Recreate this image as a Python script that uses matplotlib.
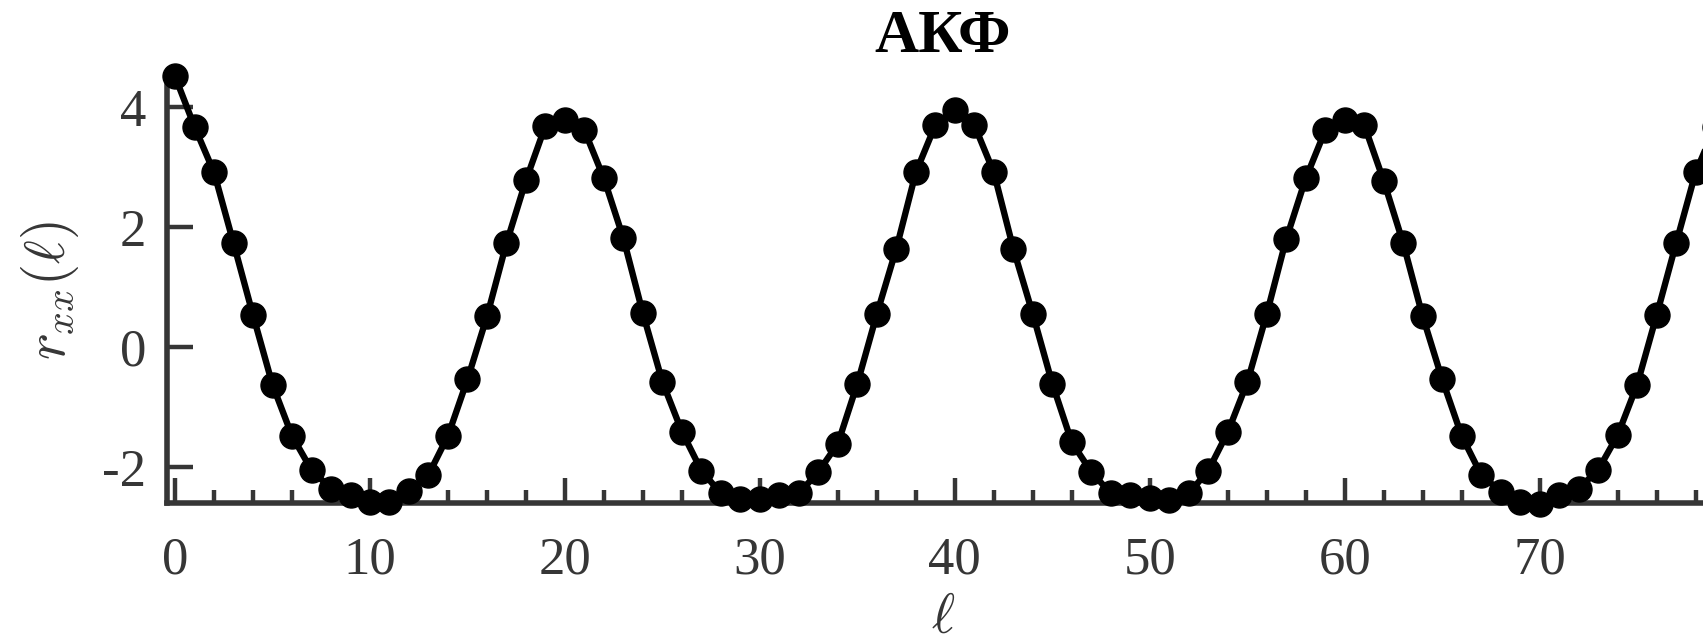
import matplotlib
matplotlib.use("Agg")
import matplotlib.pyplot as plt
import matplotlib.ticker as ticker
import numpy as np

# Отсчёты АКФ
lags = np.arange(80)
rxx = [4.51, 3.67, 2.91, 1.73, 0.53, -0.63, -1.48, -2.05, -2.36, -2.47,
       -2.59, -2.58, -2.40, -2.13, -1.48, -0.54, 0.51, 1.73, 2.78, 3.69,
       3.79, 3.61, 2.81, 1.81, 0.56, -0.58, -1.41, -2.06, -2.44, -2.54,
       -2.54, -2.47, -2.44, -2.08, -1.61, -0.61, 0.55, 1.64, 2.91, 3.70,
       3.95, 3.70, 2.91, 1.64, 0.55, -0.61, -1.59, -2.08, -2.44, -2.47,
       -2.52, -2.55, -2.44, -2.06, -1.42, -0.59, 0.55, 1.80, 2.81, 3.61,
       3.79, 3.70, 2.77, 1.73, 0.51, -0.54, -1.48, -2.13, -2.41, -2.59,
       -2.61, -2.47, -2.36, -2.05, -1.47, -0.63, 0.53, 1.73, 2.91, 3.67]
xticks = [0, 10, 20, 30, 40, 50, 60, 70]
yticks = [-2, 0, 2, 4]

axc = '#363636'
plt.rcParams['font.family'] = ['Liberation Serif', 'DejaVu Serif']
plt.rcParams['mathtext.fontset'] = 'cm'

fig = plt.figure(figsize=(17.03, 6.44), dpi=100)
ax = fig.add_axes([0.0981, 0.2189, 0.9113, 0.6615])

ax.plot(lags, rxx, '-o', color='k', lw=4.6, ms=18, clip_on=False, zorder=3)

ax.set_xlim(-0.41, 79.2)
ax.set_ylim(-2.6, 4.5)
ax.set_xticks(xticks)
ax.set_yticks(yticks)
ax.xaxis.set_minor_locator(ticker.MultipleLocator(2))
ax.yaxis.set_minor_locator(ticker.NullLocator())

for s in ['top', 'right']:
    ax.spines[s].set_visible(False)
for s in ['left', 'bottom']:
    ax.spines[s].set_linewidth(4.0)
    ax.spines[s].set_color(axc)

ax.tick_params(axis='x', which='major', direction='in', length=18, width=3.2,
               color=axc, labelcolor=axc, labelsize=38, pad=24)
ax.tick_params(axis='x', which='minor', direction='in', length=9.5, width=3.2, color=axc)
ax.tick_params(axis='y', which='major', direction='in', length=19, width=3.2,
               color=axc, labelcolor=axc, labelsize=38, pad=15)
ax.set_yticklabels(['-2', '0', '2', '4'])

ax.set_xlabel(r'$\ell$', fontsize=40, color=axc, va='center')
ax.xaxis.set_label_coords(0.5, -0.272)
ax.set_ylabel(r'$r_{xx}(\ell)$', fontsize=41, color=axc, va='center')
ax.yaxis.set_label_coords(-0.0754, 0.5)

ax.set_title('АКФ', fontsize=44, fontweight='bold', y=1.075, va='center')

fig.savefig('out.png', dpi=100)
